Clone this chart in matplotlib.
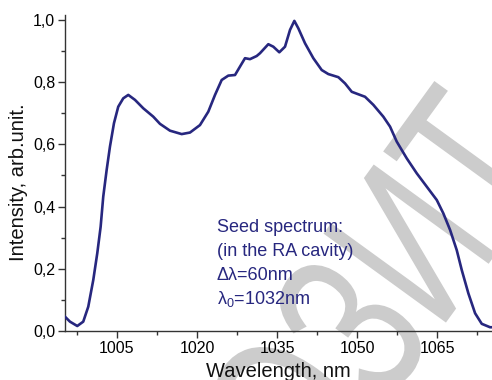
import matplotlib
matplotlib.use('Agg')
import matplotlib.pyplot as plt
from matplotlib.ticker import MultipleLocator, FuncFormatter
from matplotlib.textpath import TextPath
from matplotlib.patches import PathPatch
from matplotlib.transforms import Affine2D
from matplotlib.font_manager import FontProperties

plt.rcParams['font.family'] = ['Liberation Sans', 'DejaVu Sans']
plt.rcParams['mathtext.fontset'] = 'custom'
plt.rcParams['mathtext.rm'] = 'Liberation Sans'

# spectrum
wavelength = [995.25, 996.19, 997.56, 998.68, 999.62, 1000.56, 1001.31, 1001.94,
              1002.43, 1003.07, 1003.69, 1004.44, 1005.24, 1006.18, 1007.12,
              1008.38, 1009.93, 1011.81, 1013.06, 1014.94, 1017.13, 1018.69,
              1020.56, 1022.12, 1023.38, 1024.63, 1025.87, 1027.13, 1028.06,
              1029.0, 1029.94, 1031.19, 1031.81, 1033.37, 1034.31, 1035.43,
              1036.5, 1037.44, 1038.25, 1039.0, 1040.25, 1041.81, 1043.38,
              1044.62, 1046.5, 1047.75, 1049.01, 1050.25, 1051.5, 1053.06,
              1054.93, 1056.19, 1057.44, 1059.32, 1061.19, 1063.07, 1064.95,
              1066.18, 1067.44, 1068.69, 1069.63, 1070.87, 1072.13, 1073.38,
              1074.94, 1075.3]
intensity = [0.046, 0.030, 0.016, 0.030, 0.078, 0.164, 0.250, 0.335,
             0.432, 0.518, 0.593, 0.668, 0.721, 0.748, 0.759,
             0.743, 0.716, 0.689, 0.666, 0.644, 0.633, 0.638,
             0.662, 0.705, 0.759, 0.807, 0.821, 0.823, 0.850,
             0.877, 0.874, 0.884, 0.893, 0.922, 0.914, 0.896,
             0.914, 0.968, 0.997, 0.973, 0.925, 0.877, 0.839,
             0.826, 0.816, 0.796, 0.769, 0.761, 0.753, 0.727,
             0.689, 0.657, 0.609, 0.555, 0.507, 0.464, 0.421,
             0.378, 0.325, 0.260, 0.196, 0.121, 0.057, 0.023,
             0.012, 0.012]

notes = ['Seed spectrum:', '(in the RA cavity)', 'Δλ=60nm', r'$\mathregular{λ_0}$=1032nm']
navy = '#27277f'

fig = plt.figure(figsize=(4.92, 3.80), dpi=100)
ax = fig.add_axes([0.132, 0.129, 0.868, 0.8316])
ax.set_facecolor('none')

# watermark, narrow letters -> squeeze the text path a bit
tp = TextPath((0, 0), 'ОЗИТ', size=220, prop=FontProperties(family='Liberation Sans'))
bb = tp.get_extents()
tr = (Affine2D().translate(-(bb.x0 + bb.x1) / 2, -(bb.y0 + bb.y1) / 2)
      .scale(0.7, 1).rotate_deg(54).translate(376, 380 - 290))
ax.add_artist(PathPatch(tp, transform=tr, fc='#cccccc', ec='none',
                        zorder=0.5, clip_on=False))

ax.plot(wavelength, intensity, color=navy, lw=1.9, zorder=3,
        solid_joinstyle='round')

ax.set_xlim(995.25, 1075.3)
ax.set_ylim(0, 1.016)
ax.xaxis.set_major_locator(MultipleLocator(15))
ax.xaxis.set_minor_locator(MultipleLocator(7.5))
ax.yaxis.set_major_locator(MultipleLocator(0.2))
ax.yaxis.set_minor_locator(MultipleLocator(0.1))
ax.yaxis.set_major_formatter(FuncFormatter(lambda v, p: f'{v:.1f}'.replace('.', ',')))
ax.set_xticks([1005, 1020, 1035, 1050, 1065])

for s in ['top', 'right']:
    ax.spines[s].set_visible(False)
for s in ['left', 'bottom']:
    ax.spines[s].set_linewidth(1.0)
    ax.spines[s].set_color('#333333')
ax.tick_params(which='major', direction='out', length=5, width=1, labelsize=11.5,
               color='#333333', pad=2)
ax.tick_params(which='minor', direction='out', length=3, width=1, color='#333333')

fig.text(0.037, 0.52, 'Intensity, arb.unit.', rotation=90, ha='center', va='center',
         fontsize=14.5, color='#111111')
fig.text(0.565, 0.022, 'Wavelength, nm', ha='center', va='center', fontsize=14.5,
         color='#111111')

for i, t in enumerate(notes):
    fig.text(0.441, 1 - (227 + 24 * i) / 380, t, ha='left', va='center',
             fontsize=13, color=navy)

fig.savefig('out.png', dpi=100)
